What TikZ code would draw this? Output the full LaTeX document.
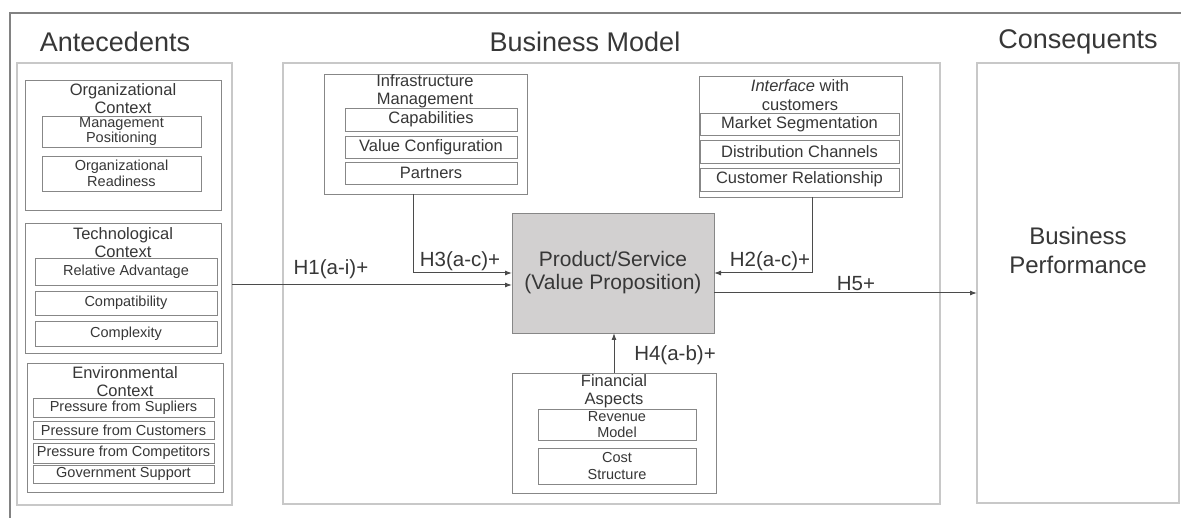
\documentclass[tikz,border=0pt]{standalone}
\usepackage{fontspec}
\setmainfont{Liberation Sans}
\usetikzlibrary{arrows.meta}
\definecolor{txt}{RGB}{55,55,55}
\definecolor{contc}{RGB}{200,200,200}
\definecolor{innerc}{RGB}{135,135,135}
\definecolor{vpfill}{RGB}{210,208,208}
\definecolor{connc}{RGB}{75,75,75}
\definecolor{framec}{RGB}{130,130,130}
\begin{document}
\begin{tikzpicture}[x=1pt,y=-1pt,
  cont/.style={draw=contc, line width=1.2pt, inner sep=0pt, outer sep=0pt, anchor=north west},
  bx/.style={draw=innerc, line width=0.9pt, inner sep=0pt, outer sep=0pt, anchor=north west, text=txt, align=center},
  ttl/.style={font=\fontsize{27}{30}\selectfont, text=txt},
  hd/.style={font=\fontsize{16.5}{18.5}\selectfont, text=txt, align=center, inner sep=0pt},
  sm/.style={font=\fontsize{14.5}{15.5}\selectfont},
  md/.style={font=\fontsize{16.5}{18}\selectfont},
  hl/.style={font=\fontsize{20.5}{22}\selectfont, text=txt, inner sep=0pt},
  arr/.style={draw=connc, line width=1pt, -{Latex[length=7pt,width=5pt]}}
]
\useasboundingbox (0,0) rectangle (1181,518);
\fill[white] (0,0) rectangle (1181,518);
% outer frame
\draw[framec, line width=1.2pt] (1181,13) -- (10,13) -- (10,518);

% titles
\node[ttl] (tAnte) at (115,42) {Antecedents};
\node[ttl] (tBM) at (585,42) {Business Model};
\node[ttl] (tCons) at (1078,42) {Consequents};

% Antecedents
\node[cont, minimum width=215pt, minimum height=442pt] (ante) at (17,63) {};
\node[bx, minimum width=196pt, minimum height=130pt] (org) at (25,80) {};
\node[hd] (orgT) at (123,98.5) {Organizational\\Context};
\node[bx, sm, minimum width=159pt, minimum height=31pt] (mgmt) at (42,116) {Management\\Positioning};
\node[bx, sm, minimum width=159pt, minimum height=35pt] (ready) at (42,156) {Organizational\\Readiness};

\node[bx, minimum width=196pt, minimum height=130pt] (tech) at (25,223) {};
\node[hd] (techT) at (123,242.5) {Technological\\Context};
\node[bx, sm, minimum width=182pt, minimum height=27pt] (relad) at (35,258) {Relative Advantage};
\node[bx, sm, minimum width=182pt, minimum height=24pt] (compat) at (35,291) {Compatibility};
\node[bx, sm, minimum width=182pt, minimum height=25pt] (complx) at (35,321) {Complexity};

\node[bx, minimum width=196pt, minimum height=129pt] (env) at (27,363) {};
\node[hd] (envT) at (125,381.5) {Environmental\\Context};
\node[bx, sm, minimum width=181pt, minimum height=19pt] (psup) at (33,398) {Pressure from Supliers};
\node[bx, sm, minimum width=181pt, minimum height=18pt] (pcus) at (33,421) {Pressure from Customers};
\node[bx, sm, minimum width=181pt, minimum height=20pt] (pcom) at (33,443) {Pressure from Competitors};
\node[bx, sm, minimum width=181pt, minimum height=18pt] (gov) at (33,465) {Government Support};

% Business model
\node[cont, minimum width=657pt, minimum height=441pt] (bm) at (283,63) {};
\node[bx, minimum width=203pt, minimum height=120pt] (infra) at (324,74) {};
\node[hd] (infraT) at (425,91) {Infrastructure\\Management};
\node[bx, md, minimum width=172pt, minimum height=23pt] (capab) at (345,108) {Capabilities};
\node[bx, md, minimum width=172pt, minimum height=22pt] (valconf) at (345,136) {Value Configuration};
\node[bx, md, minimum width=172pt, minimum height=22pt] (partn) at (345,162) {Partners};

\node[bx, minimum width=203pt, minimum height=121pt] (iface) at (699,76) {};
\node[hd] (ifaceT) at (800,95) {\textit{Interface} with\\customers};
\node[bx, md, minimum width=199pt, minimum height=22pt] (mseg) at (700,113) {Market Segmentation};
\node[bx, md, minimum width=199pt, minimum height=23pt] (dist) at (700,140) {Distribution Channels};
\node[bx, md, minimum width=199pt, minimum height=23pt] (crel) at (700,168) {Customer Relationship};

\node[bx, fill=vpfill, font=\fontsize{21}{23}\selectfont, minimum width=202pt, minimum height=120pt] (vp) at (512,213) {Product/Service\\(Value Proposition)};

\node[bx, minimum width=204pt, minimum height=120pt] (fin) at (512,373) {};
\node[hd] (finT) at (614,391) {Financial\\Aspects};
\node[bx, sm, font=\fontsize{14.5}{16.5}\selectfont, minimum width=158pt, minimum height=31pt] (rev) at (538,409) {Revenue\\Model};
\node[bx, sm, font=\fontsize{14.5}{16.5}\selectfont, minimum width=158pt, minimum height=36pt] (cost) at (538,448) {Cost\\Structure};

% Consequents
\node[cont, minimum width=202pt, minimum height=440pt] (cons) at (977,63) {};
\node[text=txt, align=center, font=\fontsize{24}{29}\selectfont] (perf) at (1078,250) {Business\\Performance};

% connectors
\coordinate (h1e) at ([yshift=-12pt]vp.west);
\coordinate (h5s) at ([yshift=-20pt]vp.east);
\draw[arr] (ante.east |- h1e) -- (h1e);
\draw[arr] ([xshift=-12.5pt]infra.south) |- (vp.west);
\draw[arr] ([xshift=11.5pt]iface.south) |- (vp.east);
\draw[arr] (fin.north) -- (fin.north |- vp.south);
\draw[arr] (h5s) -- (cons.west |- h5s);

% labels
\node[hl] (l1) at (331,269) {H1(a-i)+};
\node[hl] (l3) at (460,261) {H3(a-c)+};
\node[hl] (l2) at (770,261) {H2(a-c)+};
\node[hl] (l4) at (675,355) {H4(a-b)+};
\node[hl] (l5) at (856,284) {H5+};
\end{tikzpicture}
\end{document}
